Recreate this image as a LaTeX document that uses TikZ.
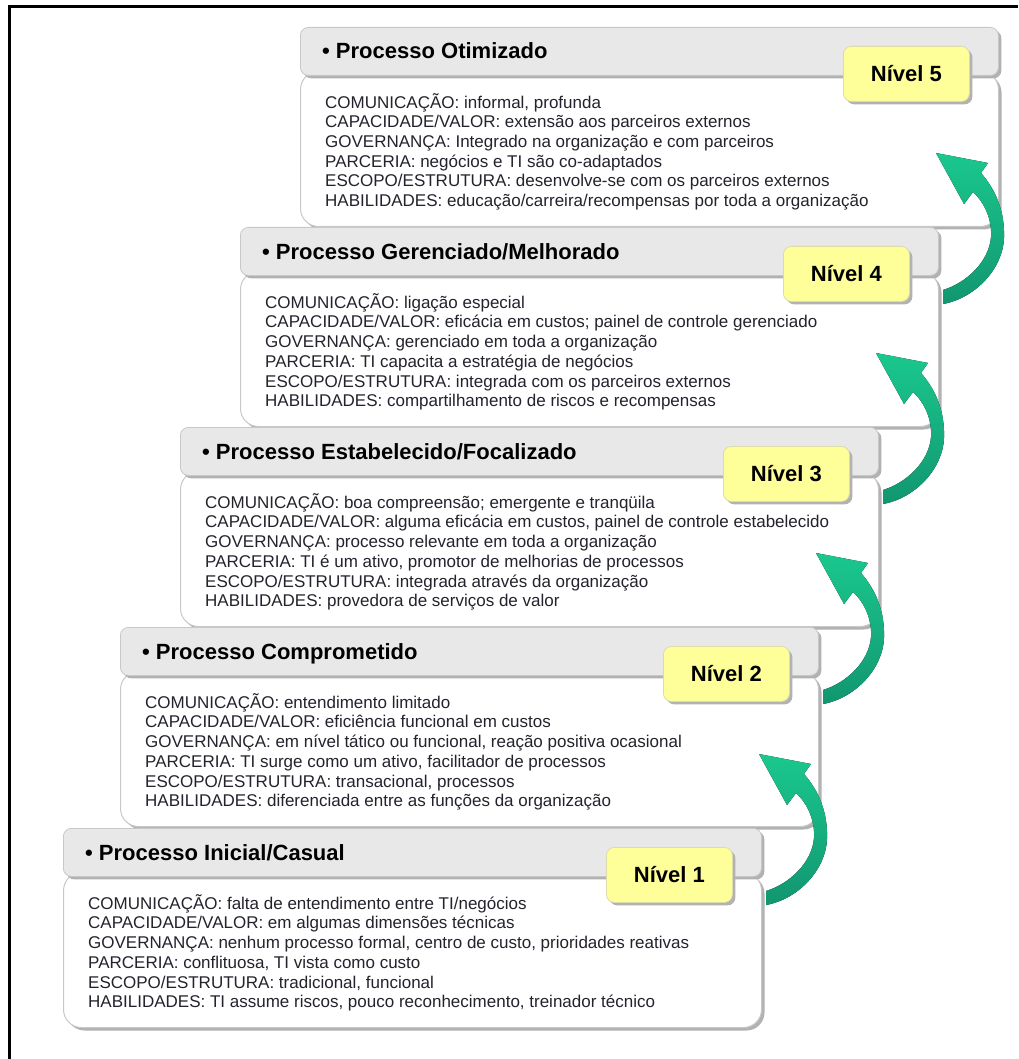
\documentclass[tikz,border=0pt]{standalone}
\usepackage{fontspec}
\setmainfont{Liberation Sans}
\usetikzlibrary{shadows}

\definecolor{tabgray}{RGB}{232,232,232}
\definecolor{edgegray}{RGB}{200,200,200}
\definecolor{shadegray}{RGB}{178,178,178}
\definecolor{levelyellow}{RGB}{255,255,153}
\definecolor{leveledge}{RGB}{220,220,170}
\definecolor{arrowgreen}{RGB}{26,200,142}
\definecolor{arrowdark}{RGB}{18,150,112}
\definecolor{bodytext}{RGB}{35,35,45}

\tikzset{
  grayshadow/.style={drop shadow={shadow xshift=3pt, shadow yshift=-3pt, fill=shadegray, opacity=1}},
  bodybox/.style={draw=edgegray, line width=1pt, fill=white, rounded corners=18pt,
    minimum width=698pt, minimum height=155pt, anchor=north west, inner sep=0pt, grayshadow},
  tabbox/.style={draw=edgegray, line width=0.8pt, fill=tabgray, rounded corners=8pt,
    minimum width=698pt, minimum height=48pt, anchor=north west, inner sep=0pt, grayshadow},
  levelbox/.style={draw=leveledge, line width=0.8pt, fill=levelyellow, rounded corners=8pt,
    minimum width=126pt, minimum height=55pt, anchor=north west, inner sep=0pt,
    font=\fontsize{22}{26}\selectfont\bfseries, grayshadow},
  titletext/.style={anchor=base west, inner sep=0pt, font=\fontsize{22}{26}\selectfont\bfseries},
  desctext/.style={anchor=north west, align=left, inner sep=0pt, text=bodytext,
    font=\fontsize{17}{19.7}\selectfont},
  growarrow/.style={top color=arrowgreen, bottom color=arrowdark, draw=none}
}

% one maturity stage: #1 level, #2 left edge, #3 top edge, #4 heading, #5 description
\newcommand{\maturitylevel}[5]{%
  \node[bodybox] (body#1) at (#2,#3+44) {};
  \node[tabbox] (tab#1) at (#2,#3) {};
  \node[titletext] (title#1) at (#2+22,#3+32) {• #4};
  \node[desctext] (desc#1) at (#2+25,#3+65) {\rule{0pt}{16pt}#5};
  \node[levelbox] (lvl#1) at (#2+543,#3+19) {Nível #1};
}

% curved arrow leaving the right side of body#1 and pointing into the stage above
\newcommand{\risearrow}[1]{%
  \begin{scope}[shift={(body#1.north east)}]
    \fill[growarrow] (4,19) .. controls (27,12) and (50,-9) .. (52,-34)
      .. controls (53,-51) and (46,-68) .. (34,-79)
      -- (25,-67) -- (-3,-118) -- (49,-108) -- (42,-98)
      .. controls (57,-81) and (66,-59) .. (65,-33)
      .. controls (64,-3) and (37,27) .. (4,33) -- cycle;
  \end{scope}%
}

\begin{document}
\begin{tikzpicture}[x=1pt,y=-1pt]
  \useasboundingbox (0,0) rectangle (1018,1059);
  \fill[white] (0,0) rectangle (1018,1059);
  \draw[line width=3pt] (9,1059) -- (9,6.5) -- (1018,6.5);

  \maturitylevel{5}{300}{27}{Processo Otimizado}{%
    COMUNICAÇÃO: informal, profunda\\
    CAPACIDADE/VALOR: extensão aos parceiros externos\\
    GOVERNANÇA: Integrado na organização e com parceiros\\
    PARCERIA: negócios e TI são co-adaptados\\
    ESCOPO/ESTRUTURA: desenvolve-se com os parceiros externos\\
    HABILIDADES: educação/carreira/recompensas por toda a organização}

  \maturitylevel{4}{240}{227}{Processo Gerenciado/Melhorado}{%
    COMUNICAÇÃO: ligação especial\\
    CAPACIDADE/VALOR: eficácia em custos; painel de controle gerenciado\\
    GOVERNANÇA: gerenciado em toda a organização\\
    PARCERIA: TI capacita a estratégia de negócios\\
    ESCOPO/ESTRUTURA: integrada com os parceiros externos\\
    HABILIDADES: compartilhamento de riscos e recompensas}

  \maturitylevel{3}{180}{427}{Processo Estabelecido/Focalizado}{%
    COMUNICAÇÃO: boa compreensão; emergente e tranqüila\\
    CAPACIDADE/VALOR: alguma eficácia em custos, painel de controle estabelecido\\
    GOVERNANÇA: processo relevante em toda a organização\\
    PARCERIA: TI é um ativo, promotor de melhorias de processos\\
    ESCOPO/ESTRUTURA: integrada através da organização\\
    HABILIDADES: provedora de serviços de valor}

  \maturitylevel{2}{120}{627}{Processo Comprometido}{%
    COMUNICAÇÃO: entendimento limitado\\
    CAPACIDADE/VALOR: eficiência funcional em custos\\
    GOVERNANÇA: em nível tático ou funcional, reação positiva ocasional\\
    PARCERIA: TI surge como um ativo, facilitador de processos\\
    ESCOPO/ESTRUTURA: transacional, processos\\
    HABILIDADES: diferenciada entre as funções da organização}

  \maturitylevel{1}{63}{828}{Processo Inicial/Casual}{%
    COMUNICAÇÃO: falta de entendimento entre TI/negócios\\
    CAPACIDADE/VALOR: em algumas dimensões técnicas\\
    GOVERNANÇA: nenhum processo formal, centro de custo, prioridades reativas\\
    PARCERIA: conflituosa, TI vista como custo\\
    ESCOPO/ESTRUTURA: tradicional, funcional\\
    HABILIDADES: TI assume riscos, pouco reconhecimento, treinador técnico}

  \risearrow{4}
  \risearrow{3}
  \risearrow{2}
  \risearrow{1}
\end{tikzpicture}
\end{document}
